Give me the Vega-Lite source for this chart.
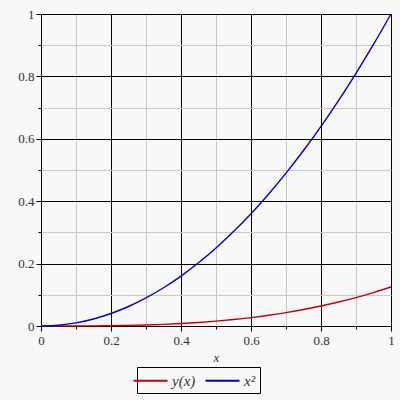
{
  "$schema": "https://vega.github.io/schema/vega-lite/v6.json",
  "autosize": "none",
  "width": 350,
  "height": 312,
  "padding": {"left": 41, "top": 14, "right": 9, "bottom": 74},
  "background": "#f8f8f8",
  "config": {
    "view": {"stroke": null, "fill": "#f8f8f8"},
    "font": "Liberation Serif"
  },
  "data": {
    "values": [
      {"x": 0, "y": 0, "s": "y(x)"},
      {"x": 0.05, "y": 0.0000156, "s": "y(x)"},
      {"x": 0.1, "y": 0.000125, "s": "y(x)"},
      {"x": 0.15, "y": 0.00042, "s": "y(x)"},
      {"x": 0.2, "y": 0.001, "s": "y(x)"},
      {"x": 0.25, "y": 0.00195, "s": "y(x)"},
      {"x": 0.3, "y": 0.003375, "s": "y(x)"},
      {"x": 0.35, "y": 0.00536, "s": "y(x)"},
      {"x": 0.4, "y": 0.008, "s": "y(x)"},
      {"x": 0.45, "y": 0.0114, "s": "y(x)"},
      {"x": 0.5, "y": 0.0156, "s": "y(x)"},
      {"x": 0.55, "y": 0.0208, "s": "y(x)"},
      {"x": 0.6, "y": 0.027, "s": "y(x)"},
      {"x": 0.65, "y": 0.0343, "s": "y(x)"},
      {"x": 0.7, "y": 0.0429, "s": "y(x)"},
      {"x": 0.75, "y": 0.0527, "s": "y(x)"},
      {"x": 0.8, "y": 0.064, "s": "y(x)"},
      {"x": 0.85, "y": 0.0768, "s": "y(x)"},
      {"x": 0.9, "y": 0.0911, "s": "y(x)"},
      {"x": 0.95, "y": 0.1072, "s": "y(x)"},
      {"x": 1, "y": 0.125, "s": "y(x)"},
      {"x": 0, "y": 0, "s": "x²"},
      {"x": 0.05, "y": 0.0025, "s": "x²"},
      {"x": 0.1, "y": 0.01, "s": "x²"},
      {"x": 0.15, "y": 0.0225, "s": "x²"},
      {"x": 0.2, "y": 0.04, "s": "x²"},
      {"x": 0.25, "y": 0.0625, "s": "x²"},
      {"x": 0.3, "y": 0.09, "s": "x²"},
      {"x": 0.35, "y": 0.1225, "s": "x²"},
      {"x": 0.4, "y": 0.16, "s": "x²"},
      {"x": 0.45, "y": 0.2025, "s": "x²"},
      {"x": 0.5, "y": 0.25, "s": "x²"},
      {"x": 0.55, "y": 0.3025, "s": "x²"},
      {"x": 0.6, "y": 0.36, "s": "x²"},
      {"x": 0.65, "y": 0.4225, "s": "x²"},
      {"x": 0.7, "y": 0.49, "s": "x²"},
      {"x": 0.75, "y": 0.5625, "s": "x²"},
      {"x": 0.8, "y": 0.64, "s": "x²"},
      {"x": 0.85, "y": 0.7225, "s": "x²"},
      {"x": 0.9, "y": 0.81, "s": "x²"},
      {"x": 0.95, "y": 0.9025, "s": "x²"},
      {"x": 1, "y": 1, "s": "x²"}
    ]
  },
  "mark": {"type": "line", "strokeWidth": 1.4, "interpolate": "monotone"},
  "encoding": {
    "x": {
      "field": "x", "type": "quantitative",
      "scale": {"domain": [0, 1], "nice": false},
      "axis": {
        "values": [0, 0.1, 0.2, 0.3, 0.4, 0.5, 0.6, 0.7, 0.8, 0.9, 1],
        "labelExpr": "abs(datum.value*5-round(datum.value*5))<0.001 ? toString(round(datum.value*10)/10) : ''",
        "grid": true,
        "gridColor": {"condition": {"test": "abs(datum.value*5-round(datum.value*5))<0.001", "value": "#000000"}, "value": "#c8c8c8"},
        "gridOpacity": 1,
        "gridWidth": 1,
        "tickSize": {"condition": {"test": "abs(datum.value*5-round(datum.value*5))<0.001", "value": 5}, "value": 3},
        "tickColor": "#000000",
        "domainColor": "#000000",
        "labelColor": "#333333",
        "labelFont": "Liberation Serif",
        "labelFontSize": 13,
        "labelPadding": 3,
        "labelFlush": false,
        "title": "x",
        "titleFont": "Liberation Serif",
        "titleFontStyle": "italic",
        "titleFontWeight": "normal",
        "titleFontSize": 13,
        "titleColor": "#333333",
        "titlePadding": 4
      }
    },
    "y": {
      "field": "y", "type": "quantitative",
      "scale": {"domain": [0, 1], "nice": false},
      "axis": {
        "values": [0, 0.1, 0.2, 0.3, 0.4, 0.5, 0.6, 0.7, 0.8, 0.9, 1],
        "labelExpr": "abs(datum.value*5-round(datum.value*5))<0.001 ? toString(round(datum.value*10)/10) : ''",
        "grid": true,
        "gridColor": {"condition": {"test": "abs(datum.value*5-round(datum.value*5))<0.001", "value": "#000000"}, "value": "#c8c8c8"},
        "gridOpacity": 1,
        "gridWidth": 1,
        "tickSize": {"condition": {"test": "abs(datum.value*5-round(datum.value*5))<0.001", "value": 5}, "value": 3},
        "tickColor": "#000000",
        "domainColor": "#000000",
        "labelColor": "#333333",
        "labelFont": "Liberation Serif",
        "labelFontSize": 13,
        "labelPadding": 2,
        "labelFlush": false,
        "title": null
      }
    },
    "color": {
      "field": "s", "type": "nominal",
      "scale": {"domain": ["y(x)", "x²"], "range": ["#c80000", "#0000c8"]},
      "legend": {
        "title": null,
        "orient": "none",
        "legendX": 96,
        "legendY": 353,
        "direction": "horizontal",
        "strokeColor": "#000000",
        "padding": 4,
        "symbolType": "M-2,0H2",
        "symbolSize": 289,
        "symbolStrokeWidth": 2,
        "labelFont": "Liberation Serif",
        "labelFontStyle": "italic",
        "labelFontSize": 15,
        "labelColor": "#333333",
        "columnPadding": 5,
        "labelOffset": 12
      }
    }
  }
}
